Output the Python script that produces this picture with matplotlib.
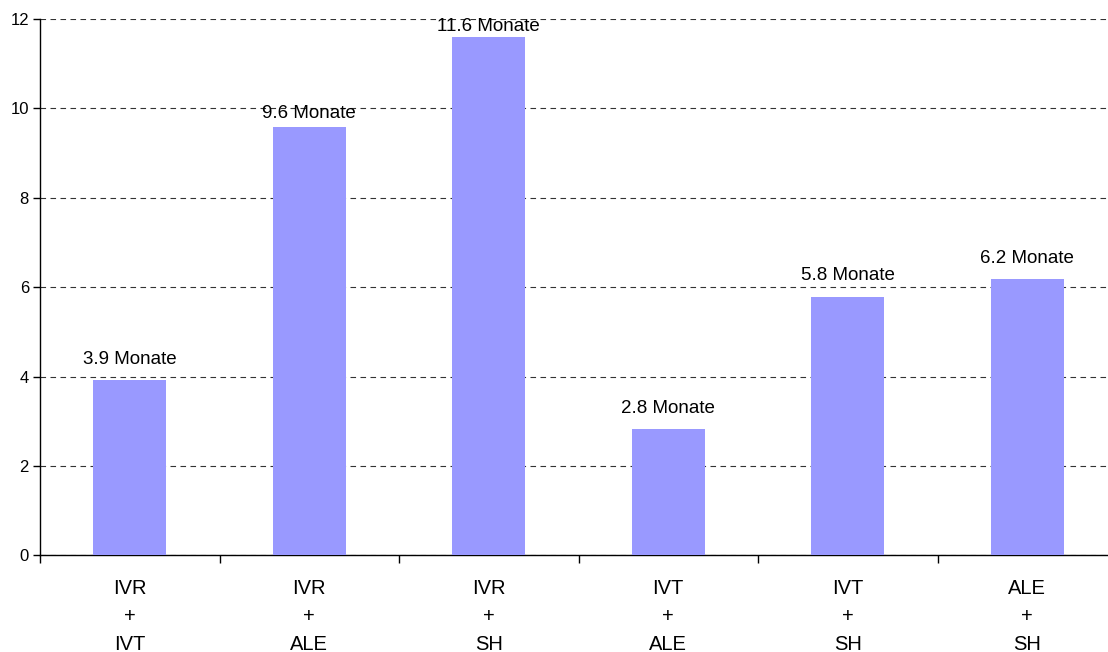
import matplotlib
matplotlib.use('Agg')
import matplotlib.pyplot as plt
import numpy as np

plt.rcParams['font.family'] = ['Liberation Sans', 'DejaVu Sans']

categories = ["IVR\n+\nIVT", "IVR\n+\nALE", "IVR\n+\nSH", "IVT\n+\nALE", "IVT\n+\nSH", "ALE\n+\nSH"]
months = [3.92, 9.58, 11.6, 2.82, 5.78, 6.18]
value_labels = ["3.9 Monate", "9.6 Monate", "11.6 Monate", "2.8 Monate", "5.8 Monate", "6.2 Monate"]
yticks = [0, 2, 4, 6, 8, 10, 12]

# label gap above bar top (in points), excel squeezed the tall ones
label_gap = [9, 3.5, 1, 9, 9, 9]

fig = plt.figure(figsize=(11.08, 6.52), dpi=100)
# plot area runs a bit past the right edge of the picture (cropped original)
ax = fig.add_axes([40 / 1108, 96.7 / 652, 1077 / 1108, (555.3 - 19) / 652])

x = np.arange(len(categories))
ax.bar(x, months, width=0.405, color="#9999FF", zorder=3)

for xi, val, lab, gap in zip(x, months, value_labels, label_gap):
    ax.annotate(lab, (xi, val), xytext=(0, gap), textcoords="offset points",
                ha="center", va="bottom", fontsize=13.5, zorder=4)

ax.set_xlim(-0.5, len(categories) - 0.5)
ax.set_ylim(0, 12)
ax.set_yticks(yticks)
ax.yaxis.grid(True, linestyle=(0, (5, 4)), color="#333333", linewidth=0.8, zorder=0)
ax.set_axisbelow(True)

ax.set_xticks(x)
ax.set_xticklabels(categories, fontsize=14.5, linespacing=1.6)
ax.tick_params(axis="x", which="major", length=0, pad=17)
ax.set_xticks(np.arange(-0.5, len(categories)), minor=True)
ax.tick_params(axis="x", which="minor", length=6, width=1, direction="out")
ax.tick_params(axis="y", length=5, width=1, labelsize=12, pad=3)

for side in ["top", "right"]:
    ax.spines[side].set_visible(False)
ax.spines["left"].set_linewidth(1)
ax.spines["bottom"].set_linewidth(1)

fig.savefig("out.png", dpi=100)
